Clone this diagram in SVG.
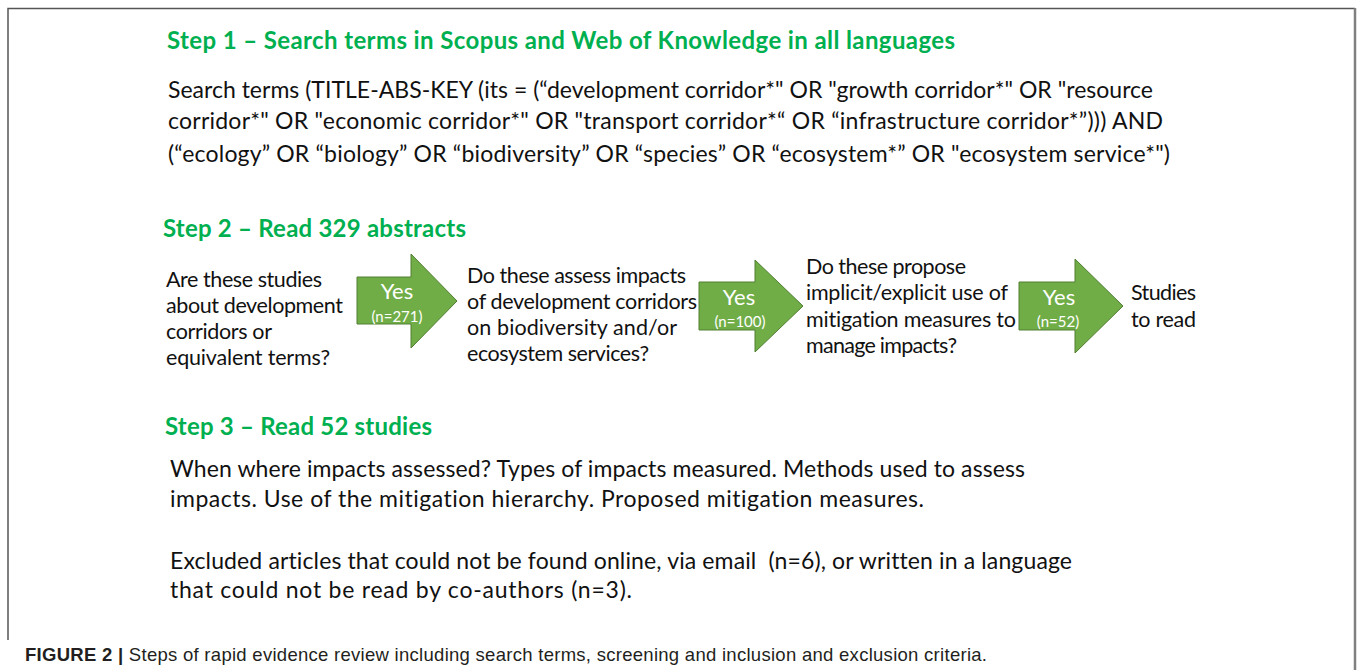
<svg xmlns="http://www.w3.org/2000/svg" width="1357" height="670" viewBox="0 0 1357 670">
<style>
text{font-variant-ligatures:none}
.h{font-family:Lato,"Open Sans","Liberation Sans",sans-serif;font-weight:bold;font-size:24px;fill:#00B050}
.t{font-family:Lato,"Open Sans","Liberation Sans",sans-serif;font-size:23px;fill:#111}
.b{font-family:Lato,"Open Sans","Liberation Sans",sans-serif;font-size:21.5px;fill:#111}
.yes{font-family:Lato,"Open Sans","Liberation Sans",sans-serif;font-size:22px;fill:#fff;text-anchor:middle}
.n{font-family:Lato,"Open Sans","Liberation Sans",sans-serif;font-size:15px;fill:#fff;text-anchor:middle}
.arrow{fill:#70AD47;stroke:#507E32;stroke-width:1}
.cap{font-family:"Liberation Sans Narrow","Liberation Sans",Arial,sans-serif;font-size:18.5px;fill:#231F20}
</style>
<rect width="1357" height="670" fill="#fff"/>
<g id="frame">
<path d="M8,640 V8.5 H1355" fill="none" stroke="#555" stroke-width="1.5"/>
<path d="M1355,8 V670" fill="none" stroke="#808080" stroke-width="2.5"/>
</g>
<g id="step1">
<text class="h" x="167" y="49" textLength="788">Step 1 – Search terms in Scopus and Web of Knowledge in all languages</text>
<text class="t" x="168" y="98" textLength="985">Search terms (TITLE-ABS-KEY (its = (“development corridor*" OR "growth corridor*" OR "resource</text>
<text class="t" x="168" y="129" textLength="995">corridor*" OR "economic corridor*" OR "transport corridor*“ OR “infrastructure corridor*”))) AND</text>
<text class="t" x="168" y="162" textLength="1002">(“ecology” OR “biology” OR “biodiversity” OR “species” OR “ecosystem*” OR "ecosystem service*")</text>
</g>
<g id="step2-heading">
<text class="h" x="163" y="237" textLength="303">Step 2 – Read 329 abstracts</text>
</g>
<g id="q1">
<text class="b" x="166" y="287" textLength="156">Are these studies</text>
<text class="b" x="166" y="313" textLength="177">about development</text>
<text class="b" x="166" y="339" textLength="106">corridors or</text>
<text class="b" x="166" y="365" textLength="164">equivalent terms?</text>
</g>
<g id="q2">
<text class="b" x="467" y="283" textLength="219">Do these assess impacts</text>
<text class="b" x="467" y="309" textLength="230">of development corridors</text>
<text class="b" x="467" y="335" textLength="210">on biodiversity and/or</text>
<text class="b" x="467" y="361" textLength="182">ecosystem services?</text>
</g>
<g id="q3">
<text class="b" x="806" y="274" textLength="160">Do these propose</text>
<text class="b" x="806" y="300" textLength="202">implicit/explicit use of</text>
<text class="b" x="806" y="327" textLength="210">mitigation measures to</text>
<text class="b" x="806" y="353" textLength="151">manage impacts?</text>
</g>
<g id="result">
<text class="b" x="1131" y="300" textLength="65">Studies</text>
<text class="b" x="1131" y="327" textLength="65">to read</text>
</g>
<g id="connectors">
<g id="arrow1">
<path class="arrow" d="M357,277 H411 V254 L457,301 L411,348 V324 H357 Z"/>
<text class="yes" x="397" y="299">Yes</text>
<text class="n" x="397" y="322">(n=271)</text>
</g>
<g id="arrow2">
<path class="arrow" d="M699,282 H755 V260 L803,306 L755,352 V330 H699 Z"/>
<text class="yes" x="739" y="305">Yes</text>
<text class="n" x="740" y="327">(n=100)</text>
</g>
<g id="arrow3">
<path class="arrow" d="M1019,282 H1075 V259 L1123,306 L1075,353 V330 H1019 Z"/>
<text class="yes" x="1059" y="305">Yes</text>
<text class="n" x="1058" y="327">(n=52)</text>
</g>
</g>
<g id="step3">
<text class="h" x="165" y="435" textLength="267">Step 3 – Read 52 studies</text>
<text class="t" x="170" y="477" textLength="855">When where impacts assessed? Types of impacts measured. Methods used to assess</text>
<text class="t" x="170" y="507" textLength="754">impacts. Use of the mitigation hierarchy. Proposed mitigation measures.</text>
<text class="t" x="170" y="569" textLength="902" xml:space="preserve">Excluded articles that could not be found online, via email  (n=6), or written in a language</text>
<text class="t" x="170" y="598" textLength="462">that could not be read by co-authors (n=3).</text>
</g>
<g id="caption">
<text class="cap" x="25" y="661" textLength="962"><tspan font-weight="bold">FIGURE 2 |</tspan> Steps of rapid evidence review including search terms, screening and inclusion and exclusion criteria.</text>
</g>
</svg>
